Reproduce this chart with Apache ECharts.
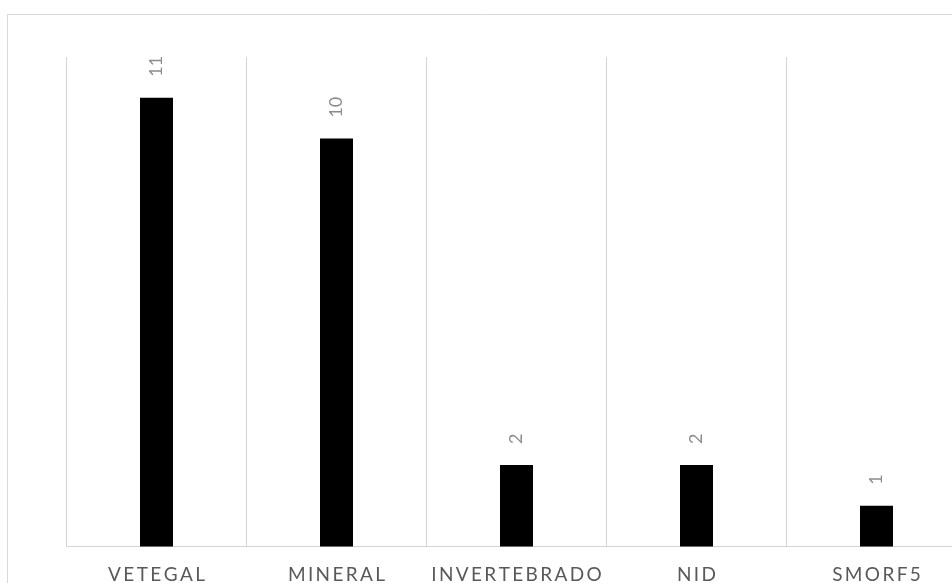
<!DOCTYPE html>
<html>
<head>
<meta charset="utf-8">
<script src="https://cdn.jsdelivr.net/npm/echarts@6/dist/echarts.min.js"></script>
<style>
  html, body { margin: 0; padding: 0; background: #ffffff; }
  #chart { width: 952px; height: 583px; }
</style>
</head>
<body>
<div id="chart"></div>
<script>
// Counts per category
const categories = ['VETEGAL', 'MINERAL', 'INVERTEBRADO', 'NID', 'SMORF5'];
const counts = [11, 10, 2, 2, 1];

// Spread the letters of the axis labels apart
const spaced = s => s.split('').join('\u2009');

const chart = echarts.init(document.getElementById('chart'), null, { renderer: 'canvas' });

chart.setOption({
  animation: false,
  backgroundColor: '#ffffff',
  graphic: [{
    type: 'rect',
    shape: { x: 7.5, y: 14.5, width: 1000, height: 1000 },
    style: { fill: 'none', stroke: '#d9d9d9', lineWidth: 1 },
    silent: true
  }],
  grid: {
    left: 66.5, top: 57, width: 900, height: 489.5,
    containLabel: false,
    outerBoundsMode: 'none'
  },
  xAxis: {
    type: 'category',
    data: categories,
    axisLine: { show: true, lineStyle: { color: '#d4d4d4', width: 1 } },
    axisTick: { show: false },
    splitLine: { show: true, interval: 0, lineStyle: { color: '#d4d4d4', width: 1 } },
    axisLabel: {
      interval: 0,
      hideOverlap: false,
      margin: 19,
      color: '#595959',
      fontFamily: 'Lato',
      fontSize: 19,
      formatter: v => spaced(v)
    }
  },
  yAxis: {
    type: 'value',
    min: 0,
    max: 12,
    show: false,
    splitLine: { show: false }
  },
  series: [{
    type: 'bar',
    data: counts,
    barWidth: 33,
    itemStyle: { color: '#000000' },
    label: {
      show: true,
      position: 'top',
      rotate: 90,
      align: 'left',
      verticalAlign: 'middle',
      distance: 21,
      color: '#8c8c8c',
      fontFamily: 'Lato',
      fontSize: 18
    }
  }]
});
</script>
</body>
</html>
